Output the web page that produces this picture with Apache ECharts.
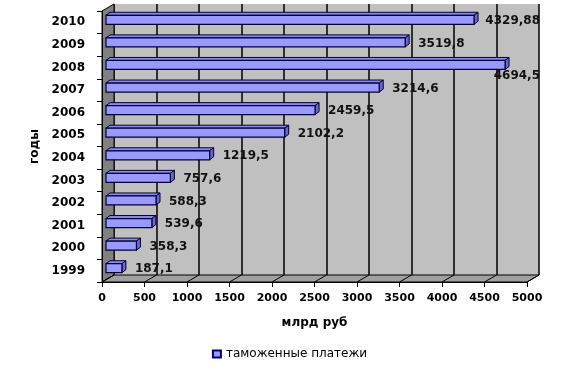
<!DOCTYPE html>
<html><head><meta charset="utf-8">
<script src="https://cdn.jsdelivr.net/npm/echarts@6/dist/echarts.min.js"></script>
<style>html,body{margin:0;padding:0;background:#fff}#c{width:579px;height:372px}</style>
</head><body><div id="c"></div>
<script>
const years = ['1999','2000','2001','2002','2003','2004','2005','2006','2007','2008','2009','2010'];
const payments = [187.1, 358.3, 539.6, 588.3, 757.6, 1219.5, 2102.2, 2459.5, 3214.6, 4694.5, 3519.8, 4329.88];
const seriesName = 'таможенные платежи';
const xTitle = 'млрд руб';
const yTitle = 'годы';
const xMin = 0, xMax = 5000, xStep = 500;

const FRONT = {left: 102, top: 11, width: 425, height: 271};
const DEPTH = {dx: 12, dy: -7};
const BACK = {left: FRONT.left + DEPTH.dx, top: FRONT.top + DEPTH.dy, width: FRONT.width, height: FRONT.height};
const FONT = '"DejaVu Sans", sans-serif';

const chart = echarts.init(document.getElementById('c'), null, {renderer: 'canvas'});
const mctx = document.createElement('canvas').getContext('2d');
mctx.font = 'bold 12px ' + FONT;

function fmt(v){ return String(v).replace('.', ','); }

const data = payments.map((v, i) => [v, years[i]]);

chart.setOption({
  animation: false,
  backgroundColor: '#fff',
  grid: [
    {left: FRONT.left, top: FRONT.top, width: FRONT.width, height: FRONT.height, containLabel: false},
    {left: BACK.left, top: BACK.top, width: BACK.width, height: BACK.height, show: true,
     backgroundColor: '#C0C0C0', borderWidth: 0, z: 0}
  ],
  xAxis: [
    {type: 'value', gridIndex: 0, min: xMin, max: xMax, interval: xStep, z: 5,
     axisLine: {show: true, lineStyle: {color: '#000', width: 1}},
     axisTick: {show: true, length: 5, lineStyle: {color: '#000'}},
     splitLine: {show: false},
     axisLabel: {margin: 11, color: '#000', fontFamily: FONT, fontWeight: 'bold', fontSize: 11,
                 formatter: function (v) { return String(v); }},
     name: xTitle, nameLocation: 'middle', nameGap: 35,
     nameTextStyle: {color: '#000', fontFamily: FONT, fontWeight: 'bold', fontSize: 12}},
    {type: 'value', gridIndex: 1, min: xMin, max: xMax, interval: xStep,
     axisLine: {show: false}, axisTick: {show: false}, axisLabel: {show: false},
     splitLine: {show: true, lineStyle: {color: '#000', width: 1.5}}}
  ],
  yAxis: [
    {type: 'category', gridIndex: 0, data: years, z: 5,
     axisLine: {show: true, lineStyle: {color: '#000', width: 1}},
     axisTick: {show: true, length: 5, lineStyle: {color: '#000'}},
     axisLabel: {margin: 17, color: '#000', fontFamily: FONT, fontWeight: 'bold', fontSize: 12,
                 padding: [4, 0, 0, 0]},
     name: yTitle, nameLocation: 'middle', nameGap: 38,
     nameTextStyle: {color: '#000', fontFamily: FONT, fontWeight: 'bold', fontSize: 12}},
    {type: 'category', gridIndex: 1, data: years, show: false}
  ],
  legend: {
    bottom: 7, left: 'center', icon: 'rect', itemWidth: 8, itemHeight: 7, itemGap: 4,
    textStyle: {color: '#000', fontFamily: FONT, fontSize: 12},
    data: [seriesName]
  },
  series: [{
    name: seriesName, type: 'custom', xAxisIndex: 0, yAxisIndex: 0, z: 10,
    itemStyle: {color: '#9999FF', borderColor: '#000080', borderWidth: 1},
    encode: {x: 0, y: 1},
    data: data,
    renderItem: function (params, api) {
      const v = api.value(0);
      const c = api.value(1);
      const p0 = api.coord([0, c]);
      const p1 = api.coord([v, c]);
      const h = 9, cx = 4, cy = -3;
      const yc = p0[1] - 2.5;
      const top = yc - 4.5;
      const x0 = p0[0] + 4, x1 = p1[0] + 4;
      const stroke = '#000033';
      const txt = fmt(v);
      const tw = mctx.measureText(txt).width;
      const backRight = BACK.left + BACK.width + 1;
      let lx = x1 + 13, ly = yc + 1, align = 'left';
      if (lx + tw > backRight + 6) { lx = backRight; ly = yc + 11; align = 'right'; }
      else if (lx + tw > backRight) { lx = backRight; align = 'right'; }
      return {type: 'group', children: [
        {type: 'polygon', shape: {points: [[x0, top], [x0 + cx, top + cy], [x1 + cx, top + cy], [x1, top]]},
         style: {fill: '#8A8AF0', stroke: stroke, lineWidth: 1}},
        {type: 'polygon', shape: {points: [[x1, top], [x1 + cx, top + cy], [x1 + cx, top + cy + h], [x1, top + h]]},
         style: {fill: '#6666CC', stroke: stroke, lineWidth: 1}},
        {type: 'rect', shape: {x: x0, y: top, width: x1 - x0, height: h},
         style: {fill: '#9999FF', stroke: stroke, lineWidth: 1.2}},
        {type: 'text', x: lx, y: ly,
         style: {text: txt, fill: '#111', font: 'bold 12px ' + FONT, align: align, verticalAlign: 'middle'}}
      ]};
    }
  }]
});

// 3D walls (decoration) derived from the axes
function drawWalls(){
  const fl = FRONT.left, ft = FRONT.top, fb = FRONT.top + FRONT.height, fr = FRONT.left + FRONT.width;
  const bl = BACK.left, bt = BACK.top, bb = BACK.top + BACK.height, br = BACK.left + BACK.width;
  const els = [
    {type: 'polygon', z: 1, shape: {points: [[fl, ft], [bl, bt], [bl, bb], [fl, fb]]},
     style: {fill: '#808080', stroke: '#000', lineWidth: 1}},
    {type: 'polygon', z: 1, shape: {points: [[fl, fb], [bl, bb], [br, bb], [fr, fb]]},
     style: {fill: '#A0A0A0', stroke: '#000', lineWidth: 1}}
  ];
  for (let t = xMin; t <= xMax; t += xStep) {
    const px = chart.convertToPixel({xAxisIndex: 0}, t);
    els.push({type: 'line', z: 2, shape: {x1: px, y1: fb, x2: px + DEPTH.dx, y2: fb + DEPTH.dy},
      style: {stroke: '#000', lineWidth: 1}});
  }
  chart.setOption({graphic: {elements: els}});
}
drawWalls();
</script>
</body></html>
